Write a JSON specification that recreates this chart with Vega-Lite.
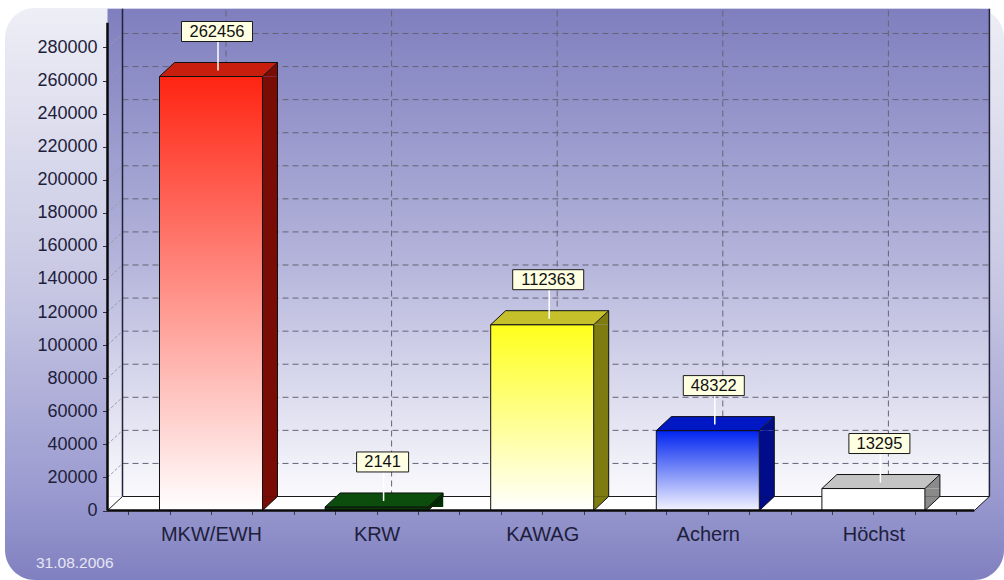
{
  "$schema": "https://vega.github.io/schema/vega-lite/v6.json",
  "width": 999,
  "height": 572,
  "autosize": {"type": "none"},
  "padding": {"left": 5, "top": 8, "right": 0, "bottom": 0},
  "background": "#ffffff",
  "view": {
    "stroke": null,
    "cornerRadius": 30,
    "fill": {"gradient": "linear", "x1": 0, "y1": 0, "x2": 0, "y2": 1,
      "stops": [{"offset": 0, "color": "#eeeef6"}, {"offset": 0.5, "color": "#c6c6e3"}, {"offset": 0.85, "color": "#9a9ad0"}, {"offset": 1, "color": "#8080c0"}]}
  },
  "title": {"text": "31.08.2006", "orient": "bottom", "anchor": "start", "frame": "group", "offset": -24, "dx": 31, "font": "Liberation Sans", "fontSize": 15.5, "fontWeight": "normal", "color": "#e6e6f4"},
  "datasets": {
    "bars": [
      {"idx": 1, "name": "MKW/EWH", "value": 262456},
      {"idx": 2, "name": "KRW", "value": 2141},
      {"idx": 3, "name": "KAWAG", "value": 112363},
      {"idx": 4, "name": "Achern", "value": 48322},
      {"idx": 5, "name": "Höchst", "value": 13295}
    ],
    "grid": [
      {"v": 20000}, {"v": 40000}, {"v": 60000}, {"v": 80000}, {"v": 100000}, {"v": 120000}, {"v": 140000},
      {"v": 160000}, {"v": 180000}, {"v": 200000}, {"v": 220000}, {"v": 240000}, {"v": 260000}, {"v": 280000}
    ]
  },
  "data": {"name": "bars"},
  "layer": [
    {
      "data": {"values": [{}]},
      "mark": {"type": "rect", "x2Offset": 15, "yOffset": -14, "y2Offset": -14,
        "fill": {"gradient": "linear", "x1": 0, "y1": 0, "x2": 0, "y2": 1,
          "stops": [{"offset": 0, "color": "#7f7fbf"}, {"offset": 0.5, "color": "#b2b2da"}, {"offset": 1, "color": "#fafafd"}]}},
      "encoding": {
        "x": {"datum": 0.375, "type": "quantitative", "scale": {"domain": [-0.24396, 5.78865], "nice": false, "zero": false, "padding": 0},
          "axis": {"orient": "bottom", "offset": -69.5, "values": [0.5, 0.75, 1, 1.25, 1.5, 1.75, 2, 2.25, 2.5, 2.75, 3, 3.25, 3.5, 3.75, 4, 4.25, 4.5, 4.75, 5, 5.25, 5.5],
            "labelExpr": "datum.value % 1 === 0 ? ['', 'MKW/EWH', 'KRW', 'KAWAG', 'Achern', 'Höchst'][datum.value] : ''",
            "domain": false, "grid": false, "tickSize": 4, "tickColor": "#3a3a4a", "tickWidth": 1,
            "labelFont": "Liberation Sans", "labelFontSize": 20, "labelColor": "#1e1e3c", "labelPadding": 10,
            "labelFlush": false, "labelOverlap": false, "title": null}},
        "x2": {"datum": 5.61},
        "y": {"datum": 0, "type": "quantitative", "scale": {"domain": [-42030, 303887], "nice": false, "zero": false, "padding": 0},
          "axis": {"orient": "left", "offset": -102.5,
            "values": [0, 5000, 10000, 15000, 20000, 25000, 30000, 35000, 40000, 45000, 50000, 55000, 60000, 65000, 70000, 75000, 80000, 85000, 90000, 95000, 100000, 105000, 110000, 115000, 120000, 125000, 130000, 135000, 140000, 145000, 150000, 155000, 160000, 165000, 170000, 175000, 180000, 185000, 190000, 195000, 200000, 205000, 210000, 215000, 220000, 225000, 230000, 235000, 240000, 245000, 250000, 255000, 260000, 265000, 270000, 275000, 280000, 285000, 290000, 295000],
            "format": "d", "labelExpr": "datum.value % 20000 === 0 ? datum.label : ''",
            "domain": false, "grid": false,
            "tickSize": {"condition": {"test": "datum.value % 20000 === 0", "value": 5}, "value": 2},
            "tickColor": "#303040", "labelFont": "Liberation Sans", "labelFontSize": 18, "labelColor": "#1e1e3c",
            "labelPadding": 5.5, "labelOverlap": false, "title": null}},
        "y2": {"datum": 295000}
      }
    },
    {
      "data": {"name": "grid"},
      "mark": {"type": "rule", "xOffset": 15, "x2Offset": 15, "yOffset": -14, "color": "#646476", "strokeDash": [6, 4], "strokeWidth": 1},
      "encoding": {
        "x": {"datum": 0.375, "type": "quantitative", "scale": {"domain": [-0.24396, 5.78865], "nice": false, "zero": false, "padding": 0}},
        "x2": {"datum": 5.61},
        "y": {"field": "v", "type": "quantitative", "scale": {"domain": [-42030, 303887], "nice": false, "zero": false, "padding": 0}}
      }
    },
    {
      "mark": {"type": "rule", "xOffset": 15, "yOffset": -14, "y2Offset": -14, "color": "#646476", "strokeDash": [6, 4], "strokeWidth": 1},
      "encoding": {
        "x": {"field": "idx", "type": "quantitative", "scale": {"domain": [-0.24396, 5.78865], "nice": false, "zero": false, "padding": 0}},
        "y": {"datum": 0, "type": "quantitative", "scale": {"domain": [-42030, 303887], "nice": false, "zero": false, "padding": 0}},
        "y2": {"datum": 295000}
      }
    },
    {
      "data": {"name": "grid"},
      "mark": {"type": "rule", "x2Offset": 15, "y2Offset": -14, "color": "#9a9aae", "strokeDash": [3, 2], "strokeWidth": 1},
      "encoding": {
        "x": {"datum": 0.375, "type": "quantitative", "scale": {"domain": [-0.24396, 5.78865], "nice": false, "zero": false, "padding": 0}},
        "x2": {"datum": 0.375},
        "y": {"field": "v", "type": "quantitative", "scale": {"domain": [-42030, 303887], "nice": false, "zero": false, "padding": 0}},
        "y2": {"field": "v"}
      }
    },
    {
      "data": {"values": [{"edge": 0.375}, {"edge": 5.61}]},
      "mark": {"type": "rule", "xOffset": 15, "yOffset": -14, "y2Offset": -14, "color": "#22223a", "strokeWidth": 1.5},
      "encoding": {
        "x": {"field": "edge", "type": "quantitative", "scale": {"domain": [-0.24396, 5.78865], "nice": false, "zero": false, "padding": 0}},
        "y": {"datum": 0, "type": "quantitative", "scale": {"domain": [-42030, 303887], "nice": false, "zero": false, "padding": 0}},
        "y2": {"datum": 295000}
      }
    },
    {
      "data": {"values": [{}]},
      "mark": {"type": "point", "shape": "M0,0 L866.9,0 L881.9,-14 L0,-14 Z", "size": 4, "filled": true, "fill": "#ffffff", "opacity": 1, "strokeWidth": 0},
      "encoding": {
        "x": {"datum": 0.375, "type": "quantitative", "scale": {"domain": [-0.24396, 5.78865], "nice": false, "zero": false, "padding": 0}},
        "y": {"datum": 0, "type": "quantitative", "scale": {"domain": [-42030, 303887], "nice": false, "zero": false, "padding": 0}}
      }
    },
    {
      "data": {"values": [{}]},
      "mark": {"type": "point", "shape": "M0,0 L15,-14 L881.9,-14 L866.9,0", "size": 4, "filled": false, "color": "#1a1a1a", "opacity": 1, "strokeWidth": 1},
      "encoding": {
        "x": {"datum": 0.375, "type": "quantitative", "scale": {"domain": [-0.24396, 5.78865], "nice": false, "zero": false, "padding": 0}},
        "y": {"datum": 0, "type": "quantitative", "scale": {"domain": [-42030, 303887], "nice": false, "zero": false, "padding": 0}}
      }
    },
    {
      "mark": {"type": "bar", "width": 15, "xOffset": 59, "y2Offset": -14, "strokeWidth": 0},
      "encoding": {
        "x": {"field": "idx", "type": "quantitative", "scale": {"domain": [-0.24396, 5.78865], "nice": false, "zero": false, "padding": 0}},
        "y": {"field": "value", "type": "quantitative", "scale": {"domain": [-42030, 303887], "nice": false, "zero": false, "padding": 0}},
        "y2": {"datum": 0},
        "fill": {"field": "name", "type": "nominal", "legend": null, "scale": {"domain": ["MKW/EWH", "KRW", "KAWAG", "Achern", "Höchst"], "range": ["#7a0c06", "#033003", "#7e7c10", "#000c8a", "#8a8a8a"]}}
      }
    },
    {
      "mark": {"type": "point", "shape": "M51.5,0 L66.5,-14 L66.5,0 Z", "size": 4, "filled": true, "opacity": 1, "strokeWidth": 0},
      "encoding": {
        "x": {"field": "idx", "type": "quantitative", "scale": {"domain": [-0.24396, 5.78865], "nice": false, "zero": false, "padding": 0}},
        "y": {"field": "value", "type": "quantitative", "scale": {"domain": [-42030, 303887], "nice": false, "zero": false, "padding": 0}},
        "fill": {"field": "name", "type": "nominal", "legend": null, "scale": {"domain": ["MKW/EWH", "KRW", "KAWAG", "Achern", "Höchst"], "range": ["#7a0c06", "#033003", "#7e7c10", "#000c8a", "#8a8a8a"]}}
      }
    },
    {
      "mark": {"type": "point", "shape": "M51.5,-14 L51.5,0 L66.5,-14 Z", "size": 4, "filled": true, "opacity": 1, "strokeWidth": 0},
      "encoding": {
        "x": {"field": "idx", "type": "quantitative", "scale": {"domain": [-0.24396, 5.78865], "nice": false, "zero": false, "padding": 0}},
        "y": {"datum": 0, "type": "quantitative", "scale": {"domain": [-42030, 303887], "nice": false, "zero": false, "padding": 0}},
        "fill": {"field": "name", "type": "nominal", "legend": null, "scale": {"domain": ["MKW/EWH", "KRW", "KAWAG", "Achern", "Höchst"], "range": ["#7a0c06", "#033003", "#7e7c10", "#000c8a", "#8a8a8a"]}}
      }
    },
    {
      "mark": {"type": "bar", "width": 103, "stroke": "#111111", "strokeWidth": 1},
      "encoding": {
        "x": {"field": "idx", "type": "quantitative", "scale": {"domain": [-0.24396, 5.78865], "nice": false, "zero": false, "padding": 0}},
        "y": {"field": "value", "type": "quantitative", "scale": {"domain": [-42030, 303887], "nice": false, "zero": false, "padding": 0}},
        "fill": {
          "condition": [
            {"test": "datum.name === 'MKW/EWH'", "value": {"gradient": "linear", "x1": 0, "y1": 0, "x2": 0, "y2": 1, "stops": [{"offset": 0, "color": "#ff2412"}, {"offset": 1, "color": "#ffffff"}]}},
            {"test": "datum.name === 'KRW'", "value": "#0a3c0a"},
            {"test": "datum.name === 'KAWAG'", "value": {"gradient": "linear", "x1": 0, "y1": 0, "x2": 0, "y2": 1, "stops": [{"offset": 0, "color": "#ffff1c"}, {"offset": 1, "color": "#ffffff"}]}},
            {"test": "datum.name === 'Achern'", "value": {"gradient": "linear", "x1": 0, "y1": 0, "x2": 0, "y2": 1, "stops": [{"offset": 0, "color": "#0024f0"}, {"offset": 1, "color": "#f4f4ff"}]}}
          ],
          "value": "#ffffff"
        }
      }
    },
    {
      "mark": {"type": "point", "shape": "M-51.5,0 L51.5,0 L66.5,-14 L-36.5,-14 Z", "size": 4, "filled": true, "opacity": 1, "stroke": "#111111", "strokeWidth": 1},
      "encoding": {
        "x": {"field": "idx", "type": "quantitative", "scale": {"domain": [-0.24396, 5.78865], "nice": false, "zero": false, "padding": 0}},
        "y": {"field": "value", "type": "quantitative", "scale": {"domain": [-42030, 303887], "nice": false, "zero": false, "padding": 0}},
        "fill": {"field": "name", "type": "nominal", "legend": null, "scale": {"domain": ["MKW/EWH", "KRW", "KAWAG", "Achern", "Höchst"], "range": ["#c81e0e", "#0c4c0c", "#c6c02a", "#0018c4", "#c4c4c4"]}}
      }
    },
    {
      "mark": {"type": "rule", "xOffset": 66.5, "yOffset": -14, "y2Offset": -14, "color": "#111111", "strokeWidth": 1},
      "encoding": {
        "x": {"field": "idx", "type": "quantitative", "scale": {"domain": [-0.24396, 5.78865], "nice": false, "zero": false, "padding": 0}},
        "y": {"field": "value", "type": "quantitative", "scale": {"domain": [-42030, 303887], "nice": false, "zero": false, "padding": 0}},
        "y2": {"datum": 0}
      }
    },
    {
      "mark": {"type": "point", "shape": "M51.5,0 L66.5,-14", "size": 4, "filled": false, "color": "#111111", "opacity": 1, "strokeWidth": 1},
      "encoding": {
        "x": {"field": "idx", "type": "quantitative", "scale": {"domain": [-0.24396, 5.78865], "nice": false, "zero": false, "padding": 0}},
        "y": {"datum": 0, "type": "quantitative", "scale": {"domain": [-42030, 303887], "nice": false, "zero": false, "padding": 0}}
      }
    },
    {
      "data": {"values": [{}]},
      "mark": {"type": "rule", "color": "#0a0a0a", "strokeWidth": 2.5},
      "encoding": {
        "x": {"datum": 0.375, "type": "quantitative", "scale": {"domain": [-0.24396, 5.78865], "nice": false, "zero": false, "padding": 0}},
        "y": {"datum": 0, "type": "quantitative", "scale": {"domain": [-42030, 303887], "nice": false, "zero": false, "padding": 0}},
        "y2": {"datum": 295000}
      }
    },
    {
      "data": {"values": [{}]},
      "mark": {"type": "rule", "color": "#0a0a0a", "strokeWidth": 2.5},
      "encoding": {
        "x": {"datum": 0.375, "type": "quantitative", "scale": {"domain": [-0.24396, 5.78865], "nice": false, "zero": false, "padding": 0}},
        "x2": {"datum": 5.61},
        "y": {"datum": 0, "type": "quantitative", "scale": {"domain": [-42030, 303887], "nice": false, "zero": false, "padding": 0}}
      }
    },
    {
      "mark": {"type": "rule", "xOffset": 7, "yOffset": -35, "y2Offset": -6, "color": "#ffffff", "strokeWidth": 1.5},
      "encoding": {
        "x": {"field": "idx", "type": "quantitative", "scale": {"domain": [-0.24396, 5.78865], "nice": false, "zero": false, "padding": 0}},
        "y": {"field": "value", "type": "quantitative", "scale": {"domain": [-42030, 303887], "nice": false, "zero": false, "padding": 0}},
        "y2": {"field": "value"}
      }
    },
    {
      "mark": {"type": "bar", "xOffset": 6, "yOffset": -55, "y2Offset": -35, "fill": "#ffffe1", "stroke": "#1a1a1a", "strokeWidth": 1},
      "encoding": {
        "x": {"field": "idx", "type": "quantitative", "scale": {"domain": [-0.24396, 5.78865], "nice": false, "zero": false, "padding": 0}},
        "y": {"field": "value", "type": "quantitative", "scale": {"domain": [-42030, 303887], "nice": false, "zero": false, "padding": 0}},
        "y2": {"field": "value"},
        "size": {"condition": [{"test": "datum.value >= 100000", "value": 71}, {"test": "datum.value >= 10000", "value": 61}], "value": 52}
      }
    },
    {
      "mark": {"type": "text", "xOffset": 6, "yOffset": -45, "align": "center", "baseline": "middle", "font": "Liberation Sans", "fontSize": 16.5, "color": "#111111"},
      "encoding": {
        "x": {"field": "idx", "type": "quantitative", "scale": {"domain": [-0.24396, 5.78865], "nice": false, "zero": false, "padding": 0}},
        "y": {"field": "value", "type": "quantitative", "scale": {"domain": [-42030, 303887], "nice": false, "zero": false, "padding": 0}},
        "text": {"field": "value", "type": "quantitative", "format": "d"}
      }
    }
  ],
  "resolve": {"scale": {"fill": "independent"}},
  "config": {"font": "Liberation Sans"}
}
